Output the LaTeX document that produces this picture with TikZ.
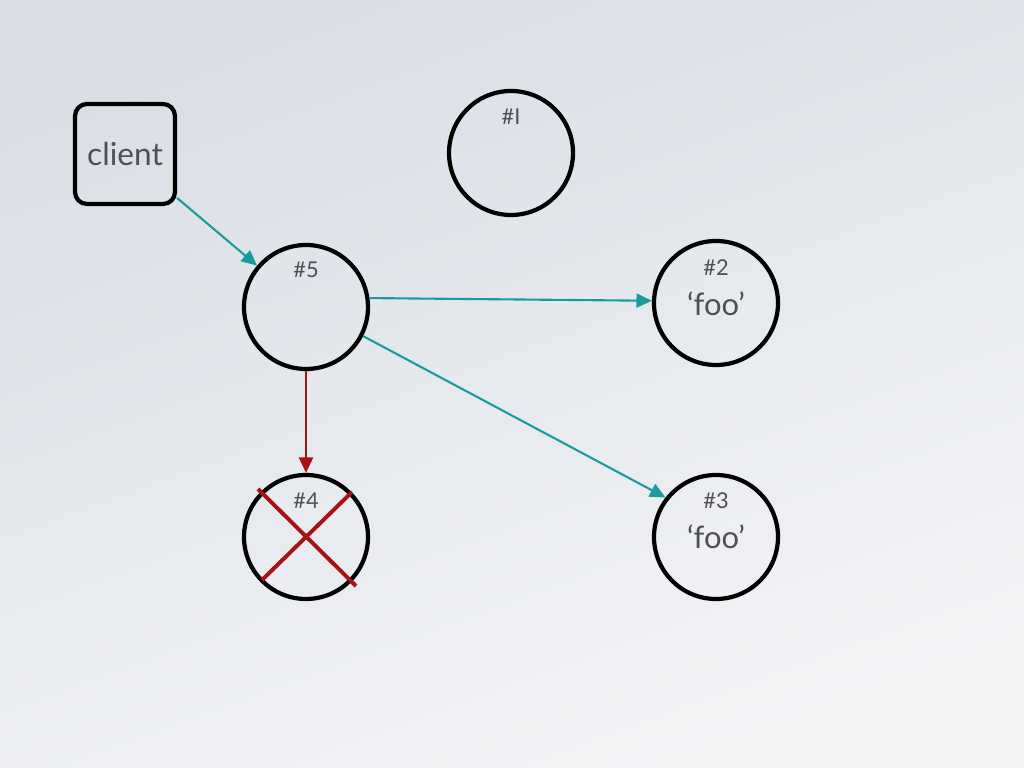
\documentclass[tikz,border=0pt]{standalone}
\usepackage{fontspec}
\setmainfont{Lato}
\usetikzlibrary{shapes,arrows.meta}
\definecolor{penteal}{RGB}{24,156,158}
\definecolor{penred}{RGB}{168,18,22}
\definecolor{ink}{RGB}{78,80,84}
\definecolor{bgtop}{RGB}{218,223,230}
\definecolor{bgbot}{RGB}{243,244,246}
\tikzset{
  server/.style={circle, draw=black, line width=3pt, minimum size=3.1cm, inner sep=0pt},
  box/.style={rectangle, rounded corners=0.3cm, draw=black, line width=3pt, minimum size=2.5cm, text=ink, font=\fontsize{22.5}{24}\selectfont},
  tag/.style={text=ink, font=\fontsize{15.5}{17}\selectfont},
  value/.style={text=ink, font=\fontsize{22}{24}\selectfont},
  send/.style={-{Triangle[length=11pt,width=10pt]}, draw=penteal, line width=1.5pt},
  fail/.style={-{Triangle[length=11pt,width=10pt]}, draw=penred, line width=1.6pt},
}

\begin{document}
\begin{tikzpicture}[scale=0.5]

    \shade[top color=bgtop, bottom color=bgbot, shading angle=20] (0,0) rectangle (51.2,38.4);

    \draw(6.25,30.7) node[box] (client) {client};
    \draw(25.55,30.75) node[server] (s1) {};
    \draw(15.3,23.05) node[server] (s5) {};
    \draw(35.8,23.25) node[server] (s2) {};
    \draw(15.3,11.55) node[server] (s4) {};
    \draw(35.8,11.55) node[server] (s3) {};

    \draw(25.55,32.55) node[tag] (t1) {\#I};
    \draw(15.3,24.9) node[tag] (t5) {\#5};
    \draw(35.8,25.0) node[tag] (t2) {\#2};
    \draw(15.3,13.35) node[tag] (t4) {\#4};
    \draw(35.8,13.35) node[tag] (t3) {\#3};
    \draw(35.8,23.2) node[value] (v2) {‘foo’};
    \draw(35.8,11.55) node[value] (v3) {‘foo’};

    \draw[send] (client) -- (s5);
    \draw[send] (s5.8) -- (s2.178);
    \draw[send] (s5.-27) -- (s3.142);
    \draw[fail] (s5) -- (s4);

    \draw[penred, line width=2.8pt] (12.9,13.95) -- (17.8,9.1);
    \draw[penred, line width=2.8pt] (17.6,13.8) -- (13.1,9.4);

\end{tikzpicture}
\end{document}
